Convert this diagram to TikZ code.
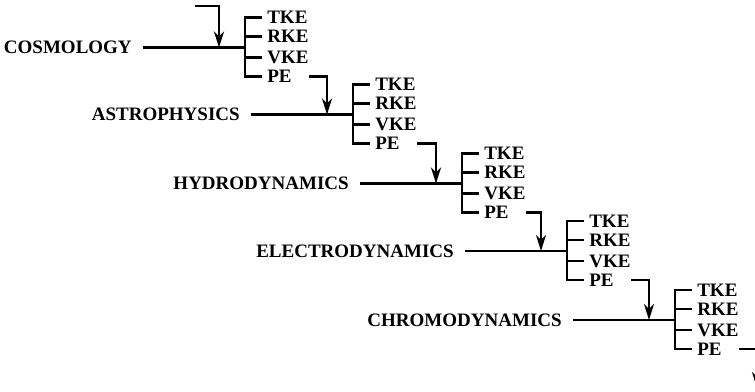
\documentclass[tikz,border=0pt]{standalone}
\usepackage{fontspec}
\setmainfont{Liberation Serif}
\usetikzlibrary{arrows.meta}
\begin{document}
\begin{tikzpicture}[x=1pt,y=-1pt, line width=2.6pt,
  lab/.style={font=\fontsize{19}{21}\selectfont\bfseries, inner sep=0pt, anchor=east},
  ke/.style={font=\fontsize{19}{21}\selectfont\bfseries, inner sep=0pt, anchor=west},
  flow/.style={-{Stealth[length=16pt,width=10pt,inset=5pt]}, line width=2.4pt}]
\useasboundingbox (0,0) rectangle (755,391);
\clip (0,0) rectangle (755,391);
\foreach \i/\bx/\my/\name in {1/245/47.5/COSMOLOGY, 2/353/114.5/ASTROPHYSICS, 3/462/183.5/HYDRODYNAMICS, 4/567/251/ELECTRODYNAMICS, 5/675/320/CHROMODYNAMICS}{
  \coordinate (b\i) at (\bx,\my);
  \coordinate (s\i) at (\bx-102,\my);
  \coordinate (a\i) at (\bx-26,\my);
  \coordinate (kt\i) at (\bx,\my-30);
  \coordinate (kr\i) at (\bx,\my-11);
  \coordinate (kv\i) at (\bx,\my+10);
  \coordinate (kp\i) at (\bx,\my+29);
  \coordinate (ps\i) at (\bx+64,\my+29);
  \node[lab] (lab\i) at (\bx-112,\my) {\name};
  \node[ke] (tke\i) at (\bx+21,\my-30) {TKE};
  \node[ke] (rke\i) at (\bx+21,\my-11) {RKE};
  \node[ke] (vke\i) at (\bx+21,\my+10) {VKE};
  \node[ke] (pe\i) at (\bx+21,\my+29) {PE};
  \draw (s\i) -- (b\i);
  \draw ([xshift=-4pt]tke\i.west) -- (kt\i) -- (kp\i) -- ([xshift=-4pt]pe\i.west);
  \draw (kr\i) -- ([xshift=-4pt]rke\i.west);
  \draw (kv\i) -- ([xshift=-4pt]vke\i.west);
}
\coordinate (ps0) at (195,6);
\coordinate (a6) at (757,388);
\draw[flow] (ps0) -| (a1);
\draw[flow] (ps1) -| (a2);
\draw[flow] (ps2) -| (a3);
\draw[flow] (ps3) -| (a4);
\draw[flow] (ps4) -| (a5);
\draw[flow] (ps5) -| (a6);
\end{tikzpicture}
\end{document}
